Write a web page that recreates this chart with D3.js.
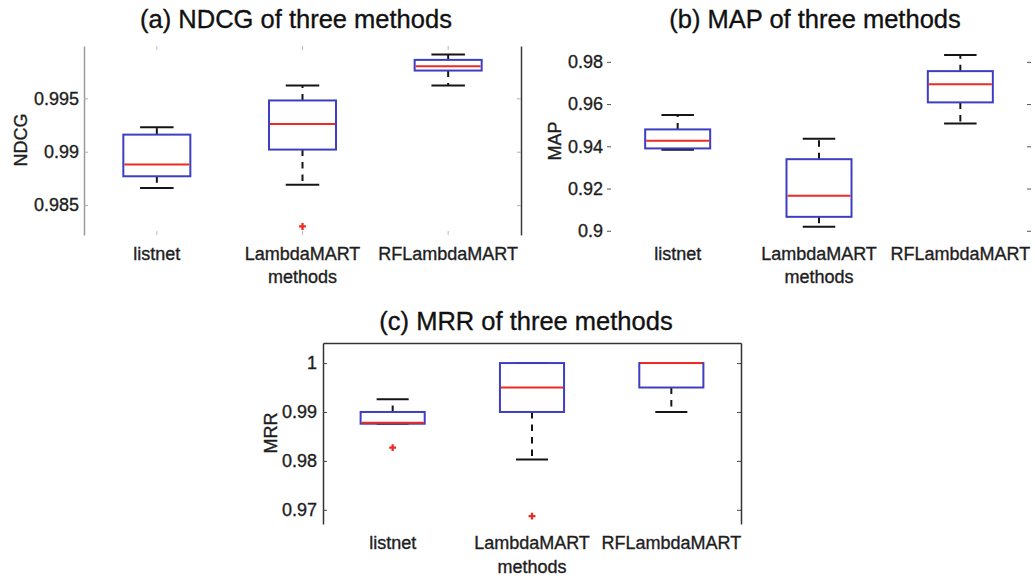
<!DOCTYPE html>
<html>
<head>
<meta charset="utf-8">
<script src="https://cdn.jsdelivr.net/npm/d3@7"></script>
<style>
  html, body { margin: 0; padding: 0; background: #fff; }
  svg { display: block; }
  svg text { paint-order: stroke; stroke-width: 0.35px; }
</style>
</head>
<body>
<script>
// Ranking methods compared in every panel
const methods = ["listnet", "LambdaMART", "RFLambdaMART"];

// (a) NDCG box statistics per method
const ndcgLow    = [0.9866, 0.9869, 0.9962];
const ndcgQ1     = [0.9877, 0.9902, 0.9976];
const ndcgMedian = [0.9888, 0.9926, 0.9980];
const ndcgQ3     = [0.9916, 0.9948, 0.9986];
const ndcgHigh   = [0.9923, 0.9962, 0.9991];
const ndcgOutliers = [[], [0.9830], []];
const ndcgTicks = [0.985, 0.99, 0.995];
const ndcgTickLabels = ["0.985", "0.99", "0.995"];

// (b) MAP box statistics per method
const mapLow    = [0.9384, 0.9019, 0.9508];
const mapQ1     = [0.9390, 0.9066, 0.9608];
const mapMedian = [0.9426, 0.9166, 0.9694];
const mapQ3     = [0.9480, 0.9339, 0.9756];
const mapHigh   = [0.9548, 0.9436, 0.9832];
const mapOutliers = [[], [], []];
const mapTicks = [0.9, 0.92, 0.94, 0.96, 0.98];
const mapTickLabels = ["0.9", "0.92", "0.94", "0.96", "0.98"];

// (c) MRR box statistics per method
const mrrLow    = [0.9876, 0.9803, 0.9900];
const mrrQ1     = [0.9876, 0.9900, 0.9950];
const mrrMedian = [0.9878, 0.9950, 1.0000];
const mrrQ3     = [0.9900, 1.0000, 1.0000];
const mrrHigh   = [0.9926, 1.0000, 1.0000];
const mrrOutliers = [[0.9827], [0.9687], []];
const mrrTicks = [0.97, 0.98, 0.99, 1];
const mrrTickLabels = ["0.97", "0.98", "0.99", "1"];

const W = 1035, H = 576;
const FONT = "'Liberation Sans', Arial, Helvetica, sans-serif";
const BOX = "#3e3ec4", MED = "#ee2b22", WHISK = "#151515", TEXT = "#1e1e1e";

const svg = d3.select("body").append("svg")
  .attr("width", W).attr("height", H)
  .style("background", "#fff");

function styleText(sel, size, color) {
  return sel.attr("fill", color).attr("stroke", color)
    .style("font-family", FONT).style("font-size", size);
}

function drawPanel(cfg) {
  const x = d3.scaleBand().domain(methods)
    .range([cfg.left, cfg.right]).paddingInner(0).paddingOuter(0);
  const y = d3.scaleLinear().domain(cfg.domain).range([cfg.bottom, cfg.top]);
  const cx = m => x(m) + x.bandwidth() / 2;
  const bw = x.bandwidth() * 0.46;
  const g = svg.append("g");

  // left y axis with labels, ticks pointing inward
  const gl = g.append("g").attr("transform", `translate(${cfg.left},0)`)
    .call(d3.axisLeft(y).tickValues(cfg.ticks)
      .tickFormat((d, i) => cfg.tickLabels[i])
      .tickSizeInner(-4).tickSizeOuter(0).tickPadding(cfg.pad));
  gl.attr("font-family", null).attr("font-size", null);
  gl.select(".domain").attr("stroke", cfg.leftLine || "none").attr("stroke-width", 1.5);
  gl.selectAll(".tick line").attr("stroke", cfg.tickColor);
  styleText(gl.selectAll(".tick text"), "18px", TEXT);

  // right y axis: ticks only
  const gr = g.append("g").attr("transform", `translate(${cfg.right},0)`)
    .call(d3.axisRight(y).tickValues(cfg.ticks).tickFormat("")
      .tickSizeInner(-4).tickSizeOuter(0));
  gr.select(".domain").attr("stroke", cfg.rightLine || "none").attr("stroke-width", 1.5);
  gr.selectAll(".tick line").attr("stroke", cfg.tickColor);

  // top edge
  const gt = g.append("g").attr("transform", `translate(0,${cfg.top})`)
    .call(d3.axisTop(x).tickFormat("").tickSizeInner(-4).tickSizeOuter(0));
  gt.select(".domain").attr("stroke", cfg.topLine || "none").attr("stroke-width", 1.5);
  gt.selectAll(".tick line").attr("stroke", cfg.xTickColor || "none");

  // bottom edge with category labels
  const gb = g.append("g").attr("transform", `translate(0,${cfg.bottom})`)
    .call(d3.axisBottom(x).tickSizeInner(-4).tickSizeOuter(0).tickPadding(12));
  gb.attr("font-family", null).attr("font-size", null);
  gb.select(".domain").attr("stroke", "none");
  gb.selectAll(".tick line").attr("stroke", cfg.xTickColor || "none");
  styleText(gb.selectAll(".tick text"), "18px", TEXT);

  // x axis label
  styleText(g.append("text").attr("x", cx(methods[1])).attr("y", cfg.xLabelY)
    .attr("text-anchor", "middle"), "18px", TEXT)
    .text("methods");

  // y axis label
  styleText(g.append("text")
    .attr("transform", `translate(${cfg.yLabelX},${cfg.yLabelY}) rotate(-90)`)
    .attr("text-anchor", "middle"), "18px", TEXT)
    .text(cfg.yLabel);

  // panel title
  styleText(g.append("text").attr("x", cfg.titleX).attr("y", cfg.titleY)
    .attr("text-anchor", "middle"), "25.5px", "#111")
    .text(cfg.title);

  const s = cfg.stats;
  const rows = methods.map((m, i) => ({
    m, low: s.low[i], q1: s.q1[i], med: s.med[i], q3: s.q3[i], high: s.high[i], out: s.out[i]
  }));
  const marks = g.append("g");

  // whiskers (dashed, drawn outward from the box)
  marks.selectAll(".wu").data(rows).join("line")
    .attr("x1", d => cx(d.m)).attr("x2", d => cx(d.m))
    .attr("y1", d => y(d.q3)).attr("y2", d => y(d.high))
    .attr("stroke", WHISK).attr("stroke-width", 2).attr("stroke-dasharray", "6.5,6");
  marks.selectAll(".wl").data(rows).join("line")
    .attr("x1", d => cx(d.m)).attr("x2", d => cx(d.m))
    .attr("y1", d => y(d.q1)).attr("y2", d => y(d.low))
    .attr("stroke", WHISK).attr("stroke-width", 2).attr("stroke-dasharray", "6.5,6");

  // whisker caps
  ["high", "low"].forEach(k => {
    marks.selectAll(".cap-" + k).data(rows).join("line")
      .attr("x1", d => cx(d.m) - bw / 4).attr("x2", d => cx(d.m) + bw / 4)
      .attr("y1", d => y(d[k])).attr("y2", d => y(d[k]))
      .attr("stroke", WHISK).attr("stroke-width", 2);
  });

  // boxes
  marks.selectAll(".box").data(rows).join("rect")
    .attr("x", d => cx(d.m) - bw / 2).attr("width", bw)
    .attr("y", d => y(d.q3)).attr("height", d => y(d.q1) - y(d.q3))
    .attr("fill", "none").attr("stroke", BOX).attr("stroke-width", 2);

  // medians
  marks.selectAll(".med").data(rows).join("line")
    .attr("x1", d => cx(d.m) - bw / 2 + 1).attr("x2", d => cx(d.m) + bw / 2 - 1)
    .attr("y1", d => y(d.med)).attr("y2", d => y(d.med))
    .attr("stroke", MED).attr("stroke-width", 2);

  // outliers
  const outPts = rows.flatMap(d => d.out.map(v => ({ m: d.m, v })));
  marks.selectAll(".out").data(outPts).join("path")
    .attr("transform", d => `translate(${cx(d.m)},${y(d.v)})`)
    .attr("d", d3.symbol(d3.symbolCross, 26)())
    .attr("fill", MED);
}

drawPanel({
  left: 84, right: 521, top: 46, bottom: 235,
  domain: [0.9822, 0.9999], ticks: ndcgTicks, tickLabels: ndcgTickLabels, pad: 5,
  leftLine: "#9a9a9a", rightLine: "#3a3a3a", tickColor: "#b0b0b0", xTickColor: "#b8b8b8",
  title: "(a) NDCG of three methods", titleX: 296, titleY: 28,
  yLabel: "NDCG", yLabelX: 27, yLabelY: 140, xLabelY: 283,
  stats: { low: ndcgLow, q1: ndcgQ1, med: ndcgMedian, q3: ndcgQ3, high: ndcgHigh, out: ndcgOutliers }
});

drawPanel({
  left: 607, right: 1031, top: 46, bottom: 235,
  domain: [0.898, 0.9875], ticks: mapTicks, tickLabels: mapTickLabels, pad: 4,
  tickColor: "#555",
  title: "(b) MAP of three methods", titleX: 815, titleY: 28,
  yLabel: "MAP", yLabelX: 561, yLabelY: 141, xLabelY: 283,
  stats: { low: mapLow, q1: mapQ1, med: mapMedian, q3: mapQ3, high: mapHigh, out: mapOutliers }
});

drawPanel({
  left: 323, right: 741, top: 343, bottom: 524,
  domain: [0.9671, 1.0041], ticks: mrrTicks, tickLabels: mrrTickLabels, pad: 6,
  leftLine: "#333", rightLine: "#333", topLine: "#333", tickColor: "#444",
  title: "(c) MRR of three methods", titleX: 526, titleY: 330,
  yLabel: "MRR", yLabelX: 277, yLabelY: 433, xLabelY: 573,
  stats: { low: mrrLow, q1: mrrQ1, med: mrrMedian, q3: mrrQ3, high: mrrHigh, out: mrrOutliers }
});
</script>
</body>
</html>
